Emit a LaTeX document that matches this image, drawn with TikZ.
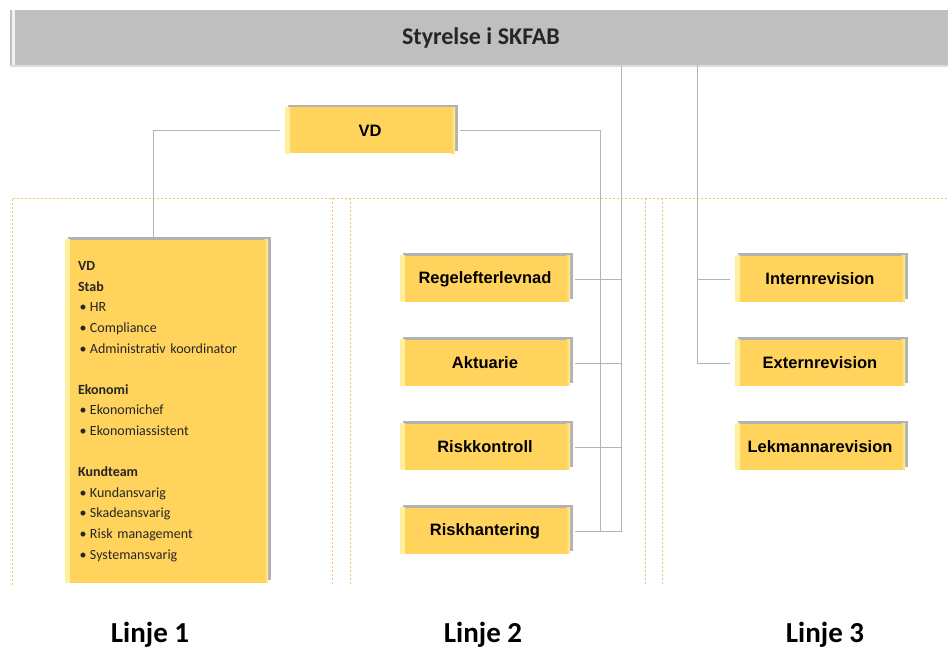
\documentclass[tikz,border=0pt]{standalone}
\usepackage{fontspec}
\setmainfont{Carlito}
\newfontfamily\arialfont{Liberation Sans}
\usepackage{xcolor}
\usepackage{tikz}
\usetikzlibrary{shapes}
\usetikzlibrary{shadows}
\usetikzlibrary{calc}
\usetikzlibrary{positioning}
\definecolor{org-gold}{HTML}{FFD35C}
\definecolor{org-gold-light}{HTML}{FFF0A0}
\definecolor{org-grey}{HTML}{BFBFBF}
\definecolor{org-line}{HTML}{B4B4B4}
\definecolor{org-lane}{HTML}{F2C46B}
\tikzset{node distance=28pt, auto,
  bevel/.style={path picture={
    \shade[left color=org-gold-light, right color=org-gold] (path picture bounding box.south west) rectangle ([xshift=5pt]path picture bounding box.north west);
    \shade[left color=org-gold, right color=org-gold-light] ([xshift=-4pt]path picture bounding box.south east) rectangle (path picture bounding box.north east);}}}
\tikzstyle{unit} = [rectangle, fill=org-gold, bevel, minimum width=170pt, minimum height=46pt, inner sep=0pt, outer sep=5pt, font={\arialfont\bfseries\fontsize{16.5}{18}\selectfont}, drop shadow={shadow xshift=2.5pt, shadow yshift=2.5pt, fill=black!55, opacity=.55}]
\tikzstyle{link} = [draw=org-line, line width=0.8pt]
\tikzstyle{lane} = [draw=org-lane, line width=0.7pt, dash pattern=on 2pt off 2pt]
\newcommand{\staffitem}[1]{\makebox[12pt][l]{\hspace{1.5pt}\textbullet}#1}

\begin{document}
\begin{tikzpicture}[x=1pt, y=1pt,
        board/.style={rectangle, fill=org-grey, minimum width=942pt, minimum height=55pt, text=black!85, font={\bfseries\fontsize{24}{28}\selectfont}, drop shadow={shadow xshift=0pt, shadow yshift=-2pt, fill=black!40, opacity=.35}, path picture={\fill[white!80!org-grey] ([xshift=2pt]path picture bounding box.south west) rectangle ([xshift=5pt]path picture bounding box.north west);}},
        staffbox/.style={rectangle, fill=org-gold, bevel, minimum width=203pt, minimum height=343pt, text width=177pt, inner xsep=13pt, align=left, text=black!85, font={\fontsize{14}{20.6}\selectfont}, drop shadow={shadow xshift=2.5pt, shadow yshift=2.5pt, fill=black!55, opacity=.55}},
        linje/.style={anchor=base, text=black, font={\bfseries\fontsize{29}{32}\selectfont}}
      ]
      \useasboundingbox (0,0) rectangle (948,653);
      \draw[lane] (12,68) |- (948,455);
      \foreach \x in {332,350,645,662} \draw[lane] (\x,455) -- (\x,68);
      \node[board]             (board) at (481,615.5)          {Styrelse i SKFAB};
      \node[unit]              (vd) at (370,522.5)             {VD};
      \node[staffbox]          (staff) at (166.5,241.5)        {\textbf{VD}\\ \textbf{Stab}\\ \staffitem{HR}\\ \staffitem{Compliance}\\ \staffitem{Administrativ koordinator}\\[20.6pt] \textbf{Ekonomi}\\ \staffitem{Ekonomichef}\\ \staffitem{Ekonomiassistent}\\[20.6pt] \textbf{Kundteam}\\ \staffitem{Kundansvarig}\\ \staffitem{Skadeansvarig}\\ \staffitem{Risk management}\\ \staffitem{Systemansvarig}};
      \node[unit]              (rf) at (485,374)               {Regelefterlevnad};
      \node[unit]              (ak)[below=of rf]               {Aktuarie};
      \node[unit]              (rk)[below=of ak]               {Riskkontroll};
      \node[unit]              (rh)[below=of rk]               {Riskhantering};
      \node[unit]              (ir)[right=155pt of rf]         {Internrevision};
      \node[unit]              (ex)[below=of ir]               {Externrevision};
      \node[unit]              (lk)[below=of ex]               {Lekmannarevision};
      \node[linje]             (l1) at (150,10)                {Linje 1};
      \node[linje]             (l2) at (483,10)                {Linje 2};
      \node[linje]             (l3) at (825,10)                {Linje 3};
      \draw[link]              (vd.west) -| ([xshift=-13.5pt]staff.north);
      \draw[link]              (vd.east) -| ([xshift=25pt]rh.east);
      \draw[link]              ([xshift=140pt]board.south) |- (rh.east);
      \foreach \n in {rf,ak,rk} \draw[link] (\n.east) -- ++(46,0);
      \draw[link]              ([xshift=216pt]board.south) |- (ex.west);
      \draw[link]              (ir.west) -- ++(-33,0);
    \end{tikzpicture}
\end{document}
